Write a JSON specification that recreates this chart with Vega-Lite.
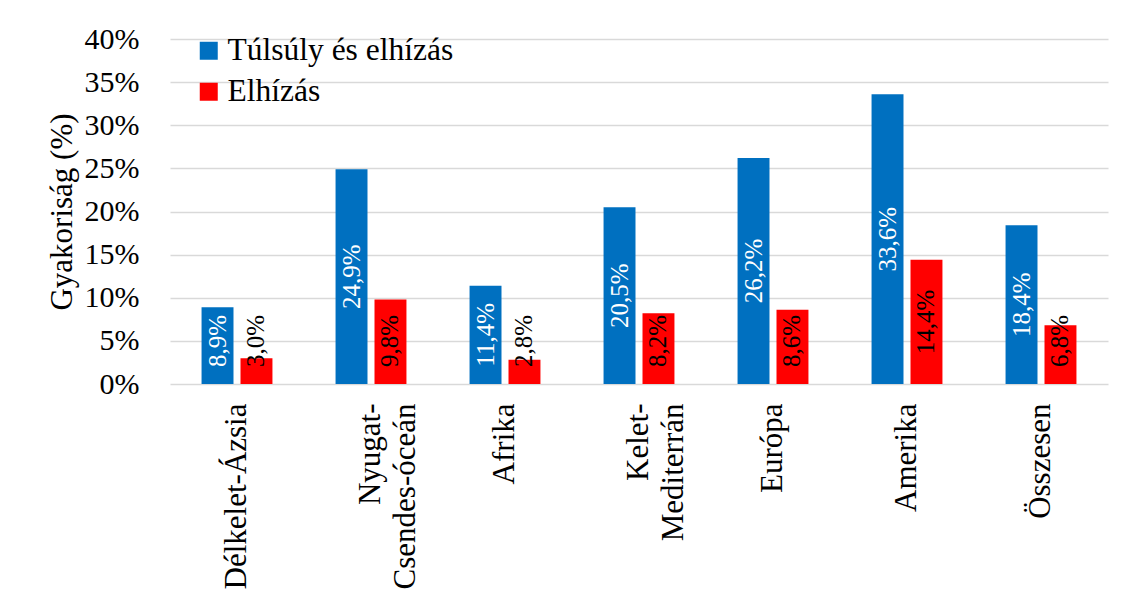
{
  "$schema": "https://vega.github.io/schema/vega-lite/v6.json",
  "width": 938,
  "height": 345,
  "autosize": "none",
  "padding": {"left": 170, "top": 39, "right": 23, "bottom": 224},
  "background": "white",
  "config": {
    "font": "Times New Roman",
    "axis": {"labelFont": "Times New Roman", "titleFont": "Times New Roman"},
    "legend": {"labelFont": "Times New Roman", "titleFont": "Times New Roman"},
    "text": {"font": "Times New Roman"},
    "view": {"stroke": null},
    "locale": {"number": {"decimal": ",", "thousands": " ", "grouping": [3], "currency": ["", " Ft"], "percent": "%"}}
  },
  "data": {
    "values": [
      {"region": "Délkelet-Ázsia", "s": "Túlsúly és elhízás", "v": 0.089},
      {"region": "Délkelet-Ázsia", "s": "Elhízás", "v": 0.030},
      {"region": "Nyugat-Csendes-óceán", "s": "Túlsúly és elhízás", "v": 0.249},
      {"region": "Nyugat-Csendes-óceán", "s": "Elhízás", "v": 0.098},
      {"region": "Afrika", "s": "Túlsúly és elhízás", "v": 0.114},
      {"region": "Afrika", "s": "Elhízás", "v": 0.028},
      {"region": "Kelet-Mediterrán", "s": "Túlsúly és elhízás", "v": 0.205},
      {"region": "Kelet-Mediterrán", "s": "Elhízás", "v": 0.082},
      {"region": "Európa", "s": "Túlsúly és elhízás", "v": 0.262},
      {"region": "Európa", "s": "Elhízás", "v": 0.086},
      {"region": "Amerika", "s": "Túlsúly és elhízás", "v": 0.336},
      {"region": "Amerika", "s": "Elhízás", "v": 0.144},
      {"region": "Összesen", "s": "Túlsúly és elhízás", "v": 0.184},
      {"region": "Összesen", "s": "Elhízás", "v": 0.068}
    ]
  },
  "encoding": {
    "x": {
      "field": "region",
      "type": "nominal",
      "sort": null,
      "scale": {"paddingInner": 0, "paddingOuter": 0},
      "axis": {
        "title": null,
        "domain": false,
        "ticks": false,
        "labelAngle": -90,
        "labelAlign": "right",
        "labelBaseline": "middle",
        "labelPadding": 19,
        "labelFontSize": 31,
        "labelColor": "black",
        "labelLineHeight": 35,
        "labelLimit": 300,
        "labelOverlap": false,
        "labelExpr": "datum.label == 'Nyugat-Csendes-óceán' ? ['Nyugat-', 'Csendes-óceán'] : datum.label == 'Kelet-Mediterrán' ? ['Kelet-', 'Mediterrán'] : datum.label"
      }
    },
    "xOffset": {
      "field": "s",
      "type": "nominal",
      "scale": {"domain": ["Túlsúly és elhízás", "Elhízás"], "paddingInner": 0.18, "paddingOuter": 0.81}
    }
  },
  "layer": [
    {
      "mark": {"type": "bar"},
      "encoding": {
        "y": {
          "field": "v",
          "type": "quantitative",
          "scale": {"domain": [0, 0.4], "nice": false},
          "axis": {
            "title": "Gyakoriság (%)",
            "titleFontSize": 31,
            "titleFontWeight": "normal",
            "titleColor": "black",
            "titlePadding": 6,
            "format": ".0%",
            "values": [0, 0.05, 0.1, 0.15, 0.2, 0.25, 0.3, 0.35, 0.4],
            "labelOverlap": false,
            "domain": false,
            "ticks": false,
            "labelFontSize": 30,
            "labelColor": "black",
            "labelPadding": 31,
            "gridColor": "#d9d9d9",
            "gridWidth": 1.5
          }
        },
        "color": {
          "field": "s",
          "type": "nominal",
          "scale": {"domain": ["Túlsúly és elhízás", "Elhízás"], "range": ["#0070C0", "#FF0000"]},
          "legend": {
            "title": null,
            "orient": "none",
            "legendX": 23,
            "legendY": -4,
            "padding": 0,
            "symbolType": "square",
            "symbolSize": 324,
            "symbolStrokeWidth": 0,
            "symbolOpacity": 1,
            "labelFontSize": 31.5,
            "labelColor": "black",
            "labelOffset": 3,
            "rowPadding": 8,
            "labelLimit": 400
          }
        }
      }
    },
    {
      "transform": [{"filter": "datum.v >= 0.1"}],
      "mark": {"type": "text", "angle": 270, "align": "center", "baseline": "middle", "fontSize": 25},
      "encoding": {
        "y": {"field": "v", "type": "quantitative", "scale": {"domain": [0, 0.8], "nice": false}, "axis": null},
        "text": {"field": "v", "type": "quantitative", "format": ".1%"},
        "color": {"condition": {"test": "datum.s == 'Túlsúly és elhízás'", "value": "white"}, "value": "black"}
      }
    },
    {
      "transform": [{"filter": "datum.v < 0.1"}],
      "mark": {"type": "text", "angle": 270, "align": "left", "baseline": "middle", "fontSize": 25, "dx": 17},
      "encoding": {
        "y": {"datum": 0, "type": "quantitative", "scale": {"domain": [0, 0.4], "nice": false}, "axis": null},
        "text": {"field": "v", "type": "quantitative", "format": ".1%"},
        "color": {"condition": {"test": "datum.s == 'Túlsúly és elhízás'", "value": "white"}, "value": "black"}
      }
    }
  ],
  "resolve": {"scale": {"y": "independent"}}
}
